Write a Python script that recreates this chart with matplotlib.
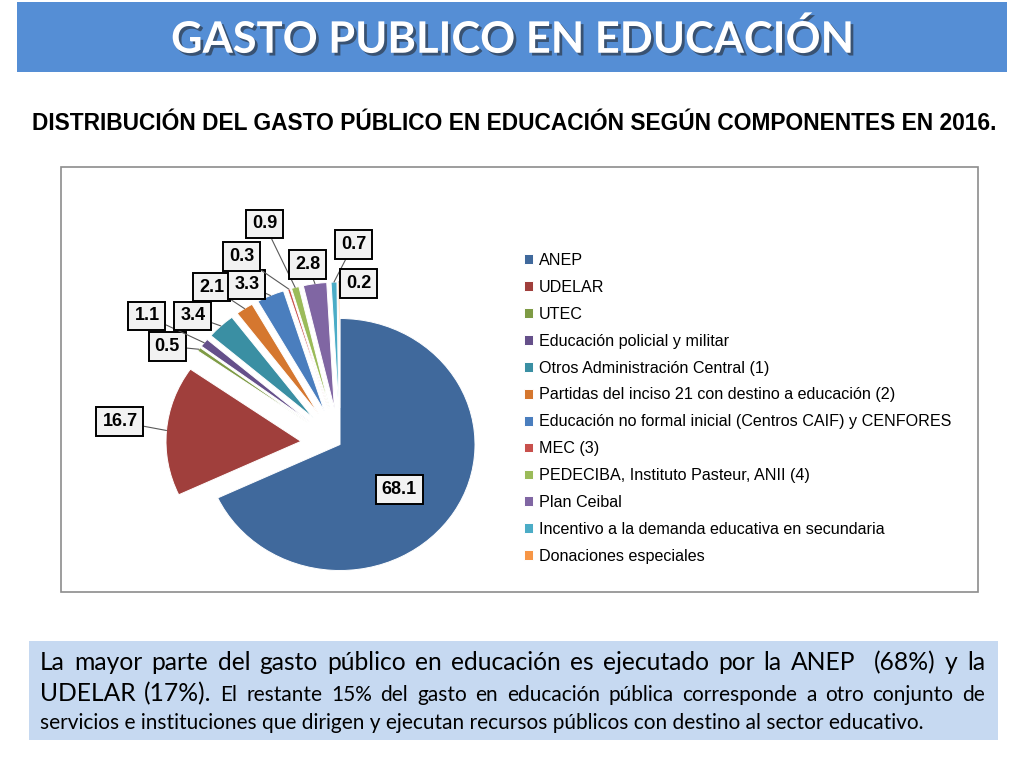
"""
plot.py

Gasto público en educación 2016: torta por componentes
"""

import numpy as np
import matplotlib
matplotlib.use("Agg")
import matplotlib.pyplot as plt
import matplotlib.patches as patches
import matplotlib.patheffects as pe
from matplotlib.transforms import IdentityTransform


# ==========================
# 1. Datos
# ==========================

TITLE = "GASTO PUBLICO EN EDUCACIÓN"
SUBTITLE = "DISTRIBUCIÓN DEL GASTO PÚBLICO EN EDUCACIÓN SEGÚN COMPONENTES EN 2016."

LABELS = [
    "ANEP",
    "UDELAR",
    "UTEC",
    "Educación policial y militar",
    "Otros Administración Central (1)",
    "Partidas del inciso 21 con destino a educación (2)",
    "Educación no formal inicial (Centros CAIF) y CENFORES",
    "MEC (3)",
    "PEDECIBA, Instituto Pasteur, ANII (4)",
    "Plan Ceibal",
    "Incentivo a la demanda educativa en secundaria",
    "Donaciones especiales",
]

VALUES = [68.1, 16.7, 0.5, 1.1, 3.4, 2.1, 3.3, 0.3, 0.9, 2.8, 0.7, 0.2]

BODY_LINE1 = "La mayor parte del gasto público en educación es ejecutado por la ANEP  (68%) y la"
BODY_LINE2A = "UDELAR (17%)."
BODY_LINE2B = "El restante 15% del gasto en educación pública corresponde a otro conjunto de"
BODY_LINE3 = "servicios e instituciones que dirigen y ejecutan recursos públicos con destino al sector educativo."


# ==========================
# 2. Estilo y posiciones
# ==========================

COLORS = [
    "#40699C", "#A03F3C", "#7E9B45", "#65508A", "#3A8FA3", "#D5772F",
    "#4A7EBE", "#C8504C", "#9BBB59", "#8066A3", "#4BACC6", "#F79646",
]

EXPLODE = [0.0] + [0.29] * 11

# posiciones de las etiquetas (en radios, respecto al centro de la torta)
LABEL_XY = [
    (0.44, -0.36), (-1.63, 0.18), (-1.28, 0.78), (-1.43, 1.02),
    (-1.09, 1.02), (-0.95, 1.25), (-0.69, 1.27), (-0.73, 1.49),
    (-0.56, 1.75), (-0.24, 1.43), (0.10, 1.59), (0.14, 1.28),
]

W, H = 1024, 768
PIX = IdentityTransform()

TITLE_FONT = "Lato"
BODY_FONT = "Lato"
SUB_FONT = "Liberation Sans"
LEGEND_FONT = "Liberation Sans"
LABEL_FONT = "Liberation Sans"


# ==========================
# 3. Funciones auxiliares
# ==========================

def px_rect(fig, x0, y0, x1, y1, **kw):
    """Rectángulo en píxeles, y medido desde arriba"""
    rect = patches.Rectangle((x0, H - y1), x1 - x0, y1 - y0, transform=PIX, **kw)
    fig.add_artist(rect)
    return rect


def text_width(fig, s, size, **kw):
    r = fig.canvas.get_renderer()
    t = fig.text(0, 0, s, fontsize=size, transform=PIX, **kw)
    w = t.get_window_extent(r).width
    t.remove()
    return w


def fit_size(fig, s, target, **kw):
    """Tamaño de fuente para que el texto ocupe target píxeles"""
    return 20 * target / text_width(fig, s, 20, **kw)


def draw_justified(fig, segments, x0, x1, y):
    """Dibuja una línea justificada palabra por palabra"""
    words = []
    for s, size in segments:
        for w in s.split(" "):
            words.append((w, size))

    widths = [text_width(fig, w, size, family=BODY_FONT) for w, size in words]
    gap = (x1 - x0 - sum(widths)) / (len(words) - 1)

    x = x0
    for (w, size), wd in zip(words, widths):
        fig.text(x, H - y, w, fontsize=size, family=BODY_FONT,
                 transform=PIX, va="baseline", ha="left", color="black")
        x += wd + gap


# ==========================
# 4. Figura
# ==========================

fig = plt.figure(figsize=(W / 100, H / 100), dpi=100)
fig.patch.set_facecolor("white")
fig.canvas.draw()

# banda del título
px_rect(fig, 17, 2, 1007, 72, facecolor="#558ED5", edgecolor="none")

title_size = fit_size(fig, TITLE, 683, family=TITLE_FONT, fontweight="bold")
fig.text(512, H - 39, TITLE, transform=PIX, ha="center", va="center",
         color="white", fontsize=title_size, fontweight="bold", family=TITLE_FONT,
         path_effects=[pe.withSimplePatchShadow(offset=(2, -2),
                                                shadow_rgbFace="#222222", alpha=0.55)])

sub_size = fit_size(fig, SUBTITLE, 965, family=SUB_FONT, fontweight="bold")
fig.text(514, H - 123, SUBTITLE, transform=PIX, ha="center", va="center",
         color="black", fontsize=sub_size, fontweight="bold", family=SUB_FONT)

# marco del gráfico
px_rect(fig, 61, 167, 978, 592, facecolor="none", edgecolor="#8C8C8C", linewidth=1.2)

# torta: centro en (340, 444.5) px, radio 135 px en x y 126 px en y
cx, cy, rx, ry = 340, 444.5, 135, 126
ax = fig.add_axes([(cx - 2 * rx) / W, (H - cy - 2 * ry) / H, 4 * rx / W, 4 * ry / H])

wedges, _ = ax.pie(
    VALUES,
    colors=COLORS,
    explode=EXPLODE,
    startangle=90,
    counterclock=False,
    wedgeprops=dict(edgecolor="white", linewidth=0.7),
)
ax.set_aspect("auto")
ax.set_xlim(-2, 2)
ax.set_ylim(-2, 2)
ax.axis("off")

box = dict(boxstyle="square,pad=0.33", facecolor="#F2F2F2", edgecolor="black", linewidth=1.4)

for i, (w, v, (lx, ly)) in enumerate(zip(wedges, VALUES, LABEL_XY)):
    label = f"{v:.1f}"
    if i == 0:
        ax.text(lx, ly, label, ha="center", va="center", fontsize=13,
                fontweight="bold", family=LABEL_FONT, bbox=box, zorder=5)
        continue

    mid = np.deg2rad((w.theta1 + w.theta2) / 2)
    px = w.center[0] + w.r * np.cos(mid)
    py = w.center[1] + w.r * np.sin(mid)

    ax.annotate(
        label,
        xy=(px, py),
        xytext=(lx, ly),
        ha="center",
        va="center",
        fontsize=13,
        fontweight="bold",
        family=LABEL_FONT,
        bbox=box,
        zorder=5,
        arrowprops=dict(arrowstyle="-", color="#595959", linewidth=0.8,
                        shrinkA=0, shrinkB=0),
    )

# leyenda
fig.legend(
    wedges,
    LABELS,
    loc="upper left",
    bbox_to_anchor=(524 / W, 1 - 253 / H),
    frameon=False,
    prop=dict(family=LEGEND_FONT, size=11.65),
    handlelength=0.55,
    handleheight=0.55,
    handletextpad=0.35,
    labelspacing=0.735,
    borderpad=0,
    borderaxespad=0,
)

# cuadro de texto inferior
px_rect(fig, 29, 641, 998, 740, facecolor="#C6D9F1", edgecolor="none")

small = fit_size(fig, BODY_LINE3, 888, family=BODY_FONT)
big = small * 1.18

draw_justified(fig, [(BODY_LINE1, big)], 40, 985, 670)
draw_justified(fig, [(BODY_LINE2A, big), (BODY_LINE2B, small)], 40, 985, 701)
fig.text(40, H - 729, BODY_LINE3, fontsize=small, family=BODY_FONT,
         transform=PIX, va="baseline", ha="left", color="black")

fig.savefig("out.png", dpi=100)
plt.close(fig)
